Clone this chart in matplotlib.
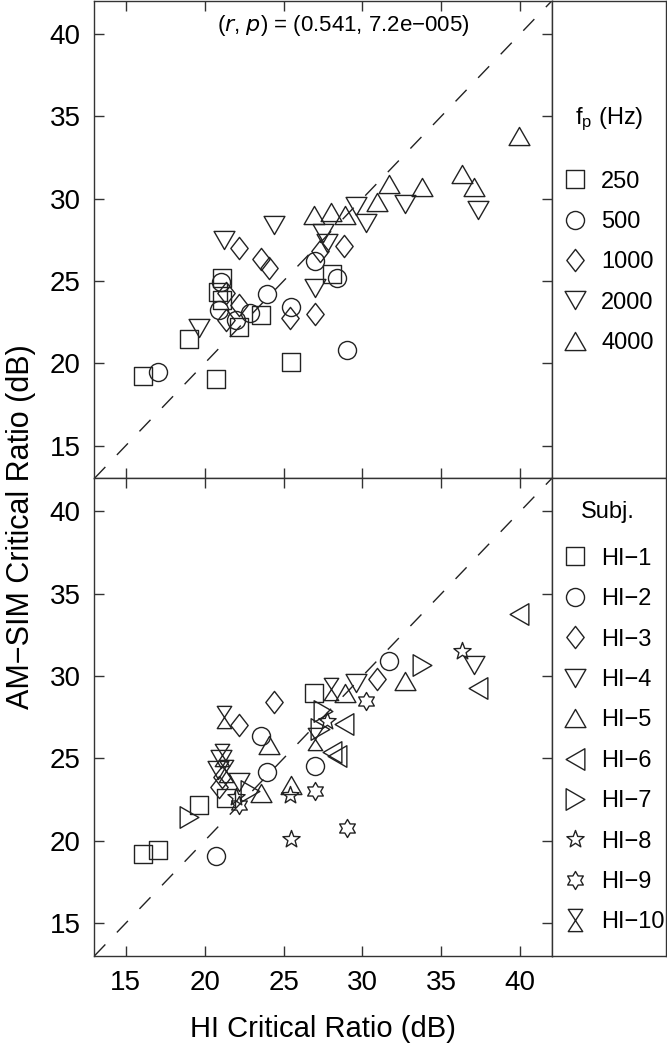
import numpy as np
import matplotlib
matplotlib.use("Agg")
import matplotlib.pyplot as plt
from matplotlib.path import Path
from matplotlib.lines import Line2D

plt.rcParams['font.family'] = ['Liberation Sans', 'DejaVu Sans']

# HI critical ratio (x), AM-SIM critical ratio (y), probe frequency, subject
hi_cr = [16.1, 17.05, 19.65, 21.35, 26.9,
         20.7, 23.55, 23.95, 27.0, 31.7,
         21.1, 20.9, 22.2, 24.4, 30.9,
         20.85, 21.05, 22.2, 29.6, 37.1,
         23.6, 25.5, 24.1, 32.7, 28.9,
         28.1, 28.4, 28.8, 37.3, 39.9,
         19.0, 22.85, 27.3, 27.5, 33.8,
         25.5, 22.0, 25.4, 27.75, 36.3,
         22.2, 29.05, 27.0, 30.2,
         21.1, 21.35, 27.0, 21.2, 28.0]
amsim_cr = [19.2, 19.45, 22.15, 22.6, 29.0,
            19.05, 26.35, 24.2, 24.55, 30.9,
            23.85, 23.25, 27.0, 28.4, 29.8,
            24.3, 24.95, 23.55, 29.55, 30.7,
            22.9, 23.4, 25.8, 29.7, 29.0,
            25.4, 25.15, 27.1, 29.3, 33.8,
            21.45, 23.05, 26.8, 27.9, 30.7,
            20.1, 22.65, 22.75, 27.3, 31.5,
            22.2, 20.8, 23.0, 28.5,
            25.2, 24.25, 26.2, 27.5, 29.2]
freq = [250, 500, 2000, 1000, 4000,
        250, 1000, 500, 2000, 4000,
        250, 500, 1000, 2000, 4000,
        250, 500, 1000, 2000, 4000,
        250, 500, 1000, 2000, 4000,
        250, 500, 1000, 2000, 4000,
        250, 500, 1000, 2000, 4000,
        250, 500, 1000, 2000, 4000,
        250, 500, 1000, 2000,
        250, 1000, 500, 2000, 4000]
subj = [1] * 5 + [2] * 5 + [3] * 5 + [4] * 5 + [5] * 5 + [6] * 5 + [7] * 5 + [8] * 5 + [9] * 4 + [10] * 5

freq_list = [250, 500, 1000, 2000, 4000]
subj_labels = ['HI\u22121', 'HI\u22122', 'HI\u22123', 'HI\u22124', 'HI\u22125',
               'HI\u22126', 'HI\u22127', 'HI\u22128', 'HI\u22129', 'HI\u221210']
r_val, p_val = 0.541, '7.2e\u2212005'


def star(n, inner):
    ang = np.pi / 2 + np.arange(2 * n) * np.pi / n
    rad = np.where(np.arange(2 * n) % 2 == 0, 1.0, inner)
    v = np.column_stack([rad * np.cos(ang), rad * np.sin(ang)])
    return Path(np.vstack([v, v[:1]]), closed=True)


sq = Path([(-1, -1), (1, -1), (1, 1), (-1, 1), (-1, -1)], closed=True)
dia = Path([(0, 1), (0.78, 0), (0, -1), (-0.78, 0), (0, 1)], closed=True)
up = Path([(0, 0.87), (1, -0.87), (-1, -0.87), (0, 0.87)], closed=True)
dn = Path([(0, -0.87), (1, 0.87), (-1, 0.87), (0, -0.87)], closed=True)
lt = Path([(-0.87, 0), (0.87, 1), (0.87, -1), (-0.87, 0)], closed=True)
rt = Path([(0.87, 0), (-0.87, 1), (-0.87, -1), (0.87, 0)], closed=True)
hour = Path([(-0.65, 1), (0.65, 1), (-0.65, -1), (0.65, -1), (-0.65, 1)], closed=True)

freq_mk = {250: (sq, 13), 500: ('o', 13), 1000: (dia, 16), 2000: (dn, 15), 4000: (up, 15)}
subj_mk = {1: (sq, 13), 2: ('o', 13), 3: (dia, 16), 4: (dn, 15), 5: (up, 15),
           6: (lt, 15.5), 7: (rt, 15.5), 8: (star(5, 0.42), 13), 9: (star(6, 0.58), 13),
           10: (hour, 16)}

ink = '#222222'
W, H = 667, 1046
fig = plt.figure(figsize=(W / 100, H / 100), dpi=100)
L, R = 94.3 / W, 551.7 / W
ax1 = fig.add_axes([L, 1 - 478.5 / H, R - L, 477.5 / H])
ax2 = fig.add_axes([L, 1 - 956 / H, R - L, 477.5 / H])
lg1 = fig.add_axes([R, 1 - 478.5 / H, 666 / W - R, 477.5 / H])
lg2 = fig.add_axes([R, 1 - 956 / H, 666 / W - R, 477.5 / H])

x = np.array(hi_cr)
y = np.array(amsim_cr)
f = np.array(freq)
s = np.array(subj)

for ax in (ax1, ax2):
    ax.plot([13, 42], [13, 42], color=ink, lw=1, dashes=(11.5, 12))
    ax.set_xlim(13, 42)
    ax.set_ylim(13, 42)
    ax.set_xticks([15, 20, 25, 30, 35, 40])
    ax.set_yticks([15, 20, 25, 30, 35, 40])
    ax.tick_params(direction='in', length=7, width=1, top=True, right=True,
                   labelsize=20, color='#333333', pad=10)
    for sp in ax.spines.values():
        sp.set_color('#333333')
        sp.set_linewidth(1)

for fv in freq_list:
    m, ms = freq_mk[fv]
    sel = f == fv
    ax1.plot(x[sel], y[sel], ls='none', marker=m, ms=ms, mfc='none', mec=ink, mew=1)
for sv in range(1, 11):
    m, ms = subj_mk[sv]
    sel = s == sv
    ax2.plot(x[sel], y[sel], ls='none', marker=m, ms=ms, mfc='none', mec=ink, mew=1)

ax1.tick_params(labelbottom=False)
ax1.text(28.8, 40.5, '($\\it{r}$, $\\it{p}$) = (%.3f, %s)' % (r_val, p_val),
         ha='center', va='center', fontsize=16)
ax2.set_xlabel('HI Critical Ratio (dB)', fontsize=21, labelpad=14)
fig.text(0.031, 0.497, 'AM\u2212SIM Critical Ratio (dB)', rotation=90,
         ha='center', va='center', fontsize=22)

for lg in (lg1, lg2):
    lg.set_xticks([])
    lg.set_yticks([])
    for sp in lg.spines.values():
        sp.set_color('#333333')
        sp.set_linewidth(1)

h1 = [Line2D([], [], ls='none', marker=freq_mk[fv][0], ms=freq_mk[fv][1],
             mfc='none', mec=ink, mew=1) for fv in freq_list]
lg1.text(0.5, 0.753, '$\\mathregular{f_p}$ (Hz)', ha='center', va='center', fontsize=17)
lg1.legend(h1, [str(fv) for fv in freq_list], loc='upper left', bbox_to_anchor=(0.07, 0.645),
           frameon=False, fontsize=17, labelspacing=0.78, handlelength=1.3,
           handletextpad=0.45, borderpad=0, borderaxespad=0)

h2 = [Line2D([], [], ls='none', marker=subj_mk[sv][0], ms=subj_mk[sv][1],
             mfc='none', mec=ink, mew=1) for sv in range(1, 11)]
lg2.text(0.49, 0.93, 'Subj.', ha='center', va='center', fontsize=17)
lg2.legend(h2, subj_labels, loc='upper left', bbox_to_anchor=(0.07, 0.855),
           frameon=False, fontsize=17, labelspacing=0.78, handlelength=1.3,
           handletextpad=0.45, borderpad=0, borderaxespad=0)

fig.savefig('out.png', dpi=100)
